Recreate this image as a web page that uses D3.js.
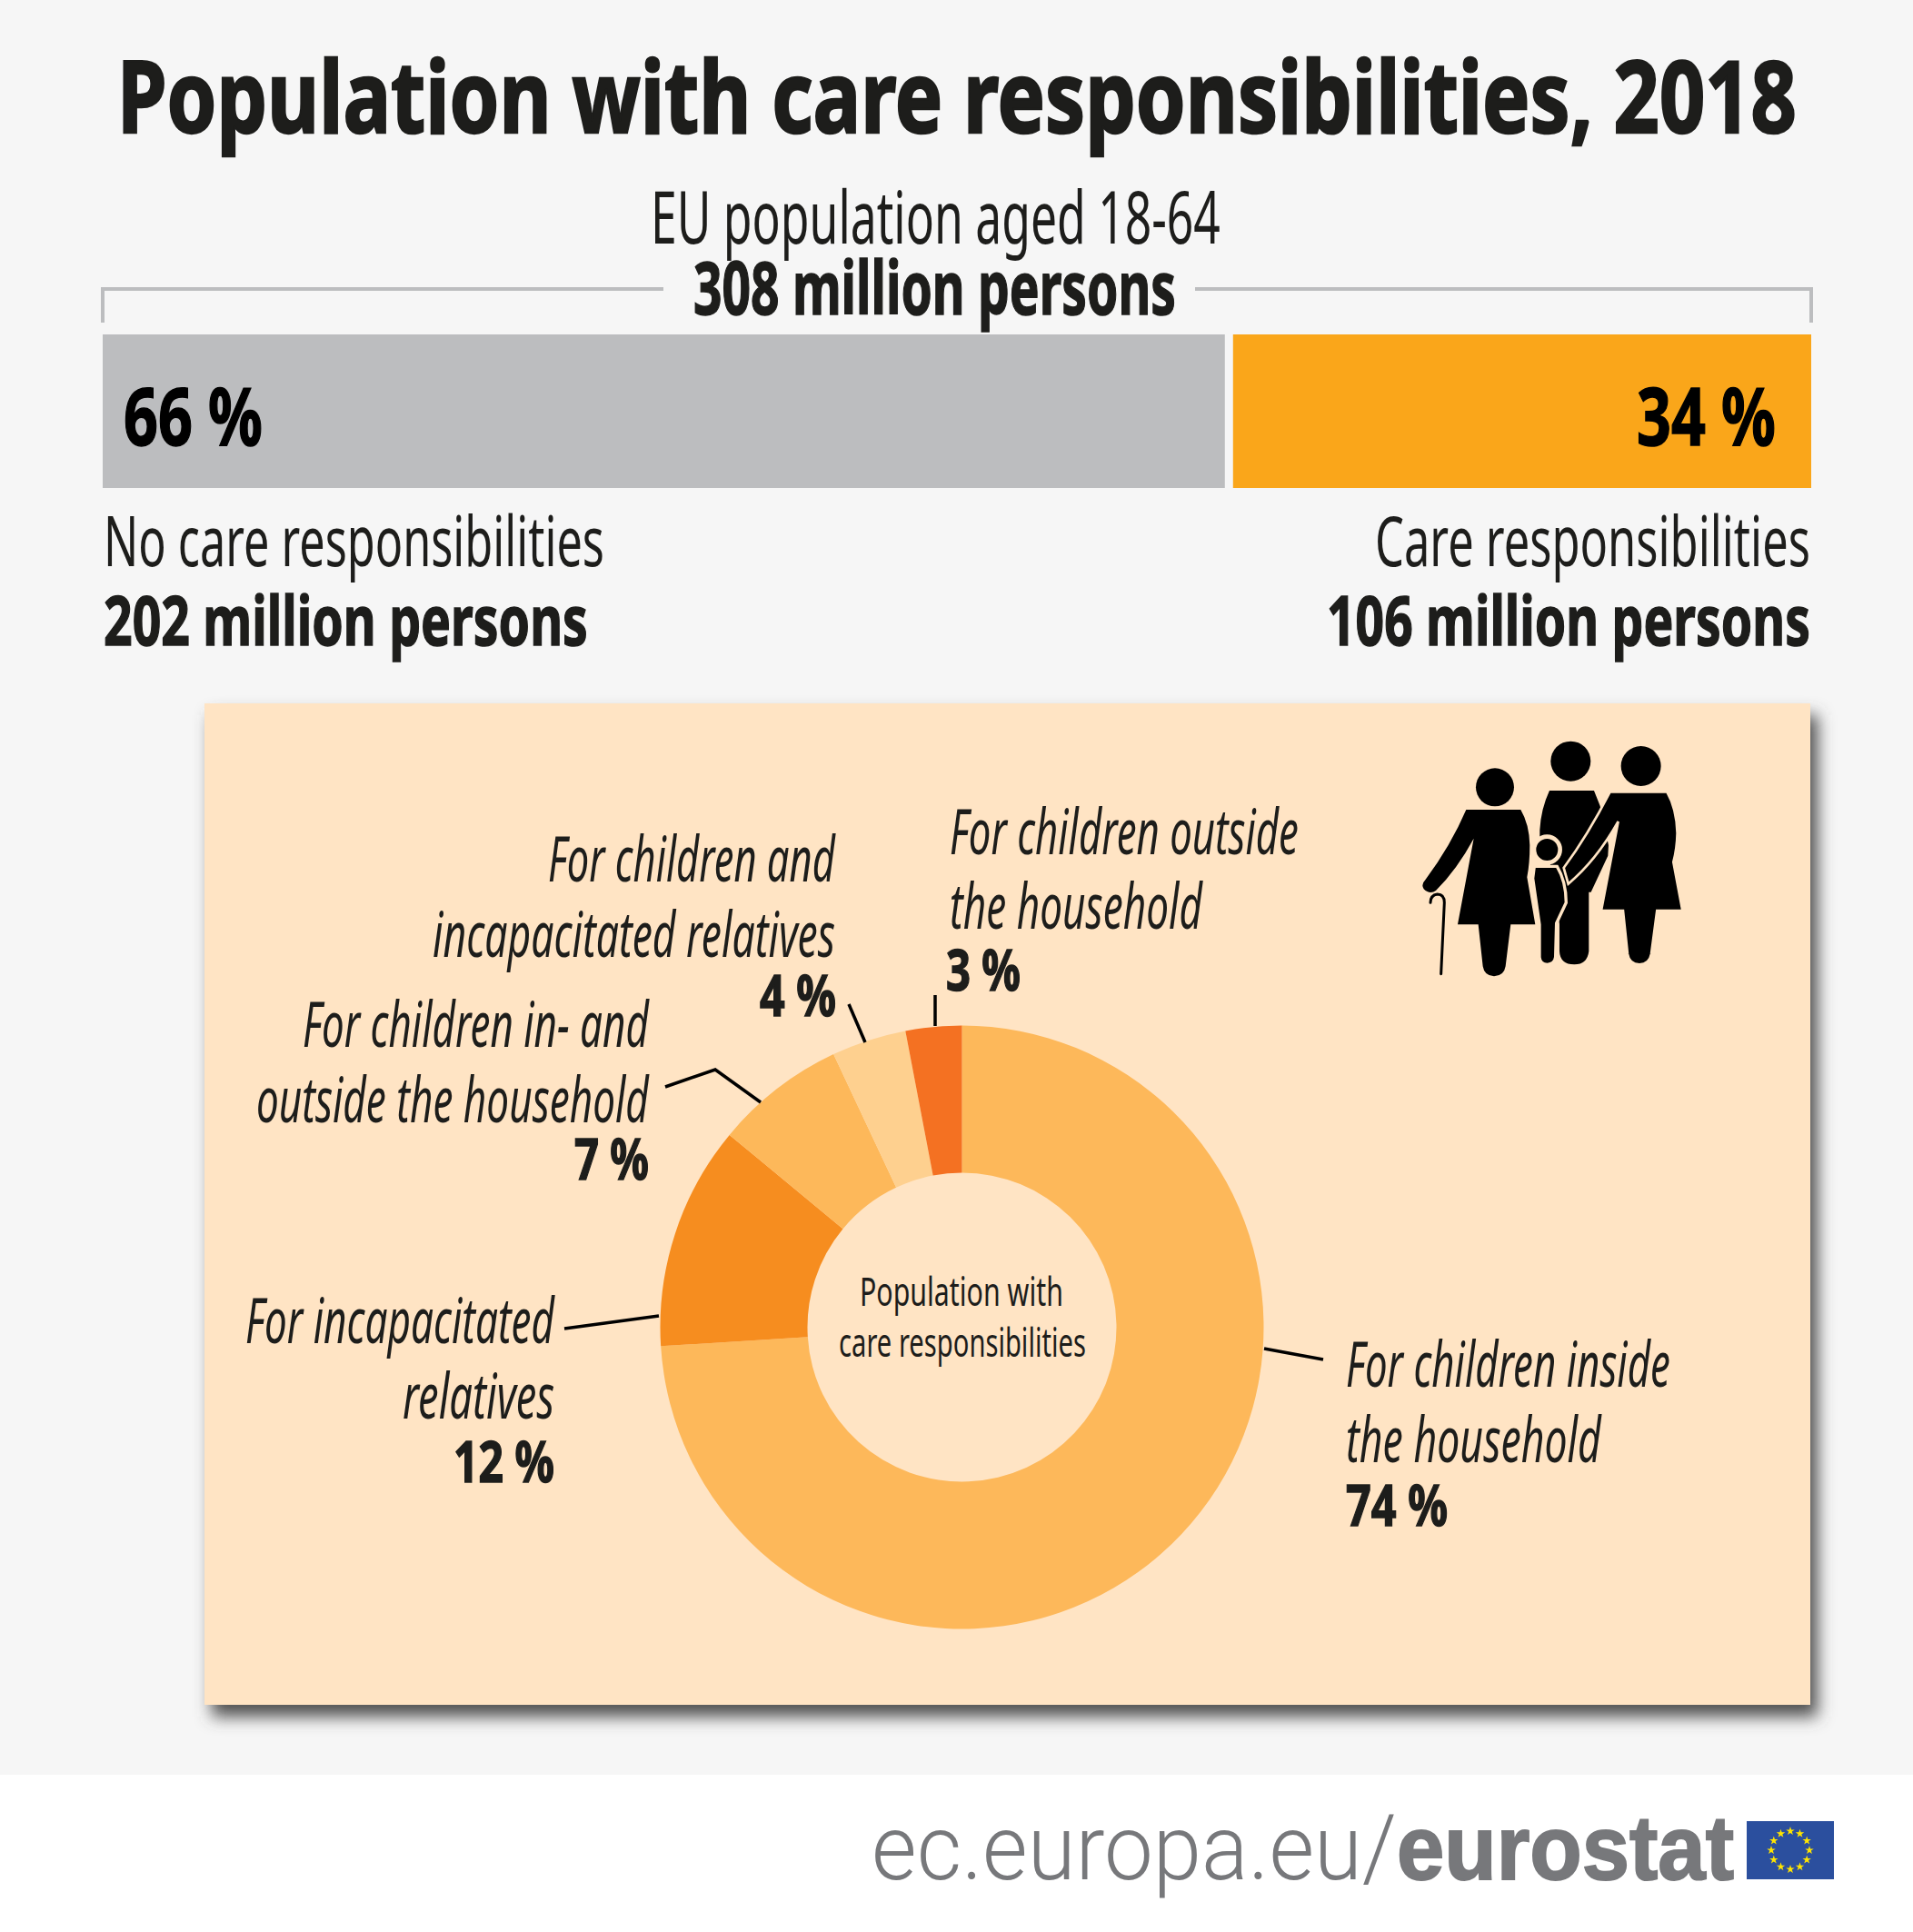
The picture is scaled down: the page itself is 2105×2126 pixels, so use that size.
<!DOCTYPE html>
<html>
<head>
<meta charset="utf-8">
<script src="https://cdn.jsdelivr.net/npm/d3@7"></script>
<style>
  html, body { margin: 0; padding: 0; background: #fff; }
  svg { display: block; }
  text { font-family: "Noto Sans", sans-serif; fill: #1d1d1b; }
</style>
</head>
<body>
<script>
// split of the population, in %
var barCategories = ["No care responsibilities", "Care responsibilities"];
var barValues = [66, 34];
var barMillions = [202, 106];

// donut slices, in %
var sliceCategories = ["For children inside the household", "For incapacitated relatives",
  "For children in- and outside the household", "For children and incapacitated relatives",
  "For children outside the household"];
var sliceValues = [74, 12, 7, 4, 3];
var sliceColors = ["#fdb85a", "#f68d1f", "#fdb85a", "#fed08f", "#f47122"];

var width = 2105, height = 2126;
var panelColor = "#ffe4c4";

var svg = d3.select("body").append("svg")
    .attr("width", width)
    .attr("height", height);

//panel shadow
var blur = svg.append("defs").append("filter")
    .attr("id", "blur")
    .attr("x", "-5%").attr("y", "-5%").attr("width", "110%").attr("height", "110%");
blur.append("feGaussianBlur").attr("stdDeviation", 9);

//text helper, squeezes the text to width w to get the condensed look of the original
function label(parent, str, x, y, w, size, weight, style, fill, family) {
    var t = parent.append("text")
        .style("font-family", family || null)
        .style("font-size", size + "px")
        .style("font-weight", weight || "normal")
        .style("font-style", style || "normal")
        .style("fill", fill || null)
        .text(str);
    var k = w / t.node().getComputedTextLength();
    t.attr("transform", "translate(" + x + "," + y + ") scale(" + k + ",1)");
    return t;
}

//same, bold text gets a thin outline since the squeeze makes it look too light
function boldLabel(parent, str, x, y, w, size, fill, outline, family) {
    var col = fill || "#1d1d1b";
    return label(parent, str, x, y, w, size, "bold", null, col, family)
        .style("stroke", col)
        .style("stroke-width", outline || 1.5);
}

//backgrounds
svg.append("rect").attr("width", width).attr("height", height).attr("fill", "#ffffff");
svg.append("rect").attr("width", width).attr("height", 1953).attr("fill", "#f6f6f6");

//title block
boldLabel(svg, "Population with care responsibilities, 2018", 129, 146, 1848, 110, null, 2.5);
label(svg, "EU population aged 18-64", 716, 268, 627, 80);
boldLabel(svg, "308 million persons", 763, 346, 531, 80);

//bracket over the bar
svg.append("path")
    .attr("d", "M113,355V318H730M1315,318H1993V355")
    .attr("fill", "none")
    .attr("stroke", "#bcbdbf")
    .attr("stroke-width", 4);

//stacked bar
var x = d3.scaleLinear().domain([0, 100]).range([113, 1993]);
var barGap = { before: 6, after: 3 };

svg.append("rect")
    .attr("x", x(0))
    .attr("y", 368)
    .attr("width", x(barValues[0]) - x(0) - barGap.before)
    .attr("height", 169)
    .attr("fill", "#bcbdbf");
svg.append("rect")
    .attr("x", x(barValues[0]) + barGap.after)
    .attr("y", 368)
    .attr("width", x(100) - x(barValues[0]) - barGap.after)
    .attr("height", 169)
    .attr("fill", "#faa61a");

boldLabel(svg, barValues[0] + " %", 136, 490, 153, 88, "#000");
boldLabel(svg, barValues[1] + " %", 1801, 490, 153, 88, "#000");

label(svg, barCategories[0], 114, 623, 551, 76);
boldLabel(svg, barMillions[0] + " million persons", 114, 710, 533, 76);
label(svg, barCategories[1], 1513, 623, 479, 76);
boldLabel(svg, barMillions[1] + " million persons", 1460, 710, 532, 76);

//panel with shadow
svg.append("rect")
    .attr("x", 233).attr("y", 787).attr("width", 1767).attr("height", 1102)
    .attr("fill", "#505050")
    .attr("filter", "url(#blur)");
svg.append("rect")
    .attr("x", 225).attr("y", 774).attr("width", 1767).attr("height", 1102)
    .attr("fill", panelColor);

//donut
var pie = d3.pie().sort(null).value(d => d);
var arc = d3.arc().innerRadius(170).outerRadius(332);
var donut = svg.append("g").attr("transform", "translate(1058.5,1460.5)");

donut.selectAll("path")
    .data(pie(sliceValues))
    .enter().append("path")
    .attr("d", arc)
    .attr("fill", (d, i) => sliceColors[i]);

label(svg, "Population with", 946, 1437, 224, 44);
label(svg, "care responsibilities", 923, 1493, 272, 44);

//leader lines
var leaders = svg.append("g").attr("fill", "none").attr("stroke", "#000").attr("stroke-width", 3.5);
leaders.append("path").attr("d", "M934,1105L952,1147");
leaders.append("path").attr("d", "M1029,1095V1129");
leaders.append("path").attr("d", "M732,1196L787,1177L837,1213");
leaders.append("path").attr("d", "M621,1462L725,1448");
leaders.append("path").attr("d", "M1391,1484L1456,1496");

//slice labels
label(svg, "For children and", 603, 970, 316, 70, null, "italic");
label(svg, "incapacitated relatives", 476, 1053, 443, 70, null, "italic");
boldLabel(svg, sliceValues[3] + " %", 836, 1118, 84, 62);

label(svg, "For children outside", 1045, 940, 384, 70, null, "italic");
label(svg, "the household", 1045, 1022, 278, 70, null, "italic");
boldLabel(svg, sliceValues[4] + " %", 1041, 1090, 82, 62);

label(svg, "For children in- and", 333, 1152, 381, 70, null, "italic");
label(svg, "outside the household", 282, 1235, 432, 70, null, "italic");
boldLabel(svg, sliceValues[2] + " %", 632, 1298, 82, 62);

label(svg, "For incapacitated", 270, 1478, 340, 70, null, "italic");
label(svg, "relatives", 443, 1561, 167, 70, null, "italic");
boldLabel(svg, sliceValues[1] + " %", 499, 1631, 111, 62);

label(svg, "For children inside", 1481, 1526, 357, 70, null, "italic");
label(svg, "the household", 1481, 1609, 281, 70, null, "italic");
boldLabel(svg, sliceValues[0] + " %", 1481, 1679, 112, 62);

//family icon, drawn in a 3x grid
var icon = svg.append("g").attr("transform", "translate(1500,780) scale(0.3333)");
//man at the back
icon.append("circle").attr("cx", 685).attr("cy", 173).attr("r", 66);
icon.append("path").attr("d", "M615,270L762,270L782,320L810,450L808,485L752,605L745,605L745,800Q740,843 697,844Q650,843 648,800L648,710L620,520L583,430L583,400Q587,330 615,270Z");
//woman on the right
icon.append("circle").attr("cx", 917).attr("cy", 189).attr("r", 66);
icon.append("path")
    .attr("d", "M815,274L1003,274Q1035,330 1037,410Q1036,460 1024,506L1054,666L970,666L951,810Q945,843 912,844Q878,843 873,810L858,666L786,666L842,372Q770,500 677,578L662,525Q740,420 815,274Z")
    .attr("stroke", panelColor).attr("stroke-width", 8);
//woman on the left with the cane
icon.append("circle").attr("cx", 435).attr("cy", 259).attr("r", 63);
icon.append("path").attr("d", "M340,333L520,333Q548,380 550,450Q550,510 541,556L568,712L487,712L470,850Q465,882 432,883Q400,882 395,850L380,712L312,712L365,428Q310,530 240,600Q220,615 200,595Q190,580 205,565Q290,450 340,333Z");
icon.append("path")
    .attr("d", "M257,875L268,640Q268,612 245,612Q222,615 222,640")
    .attr("fill", "none").attr("stroke", "#000").attr("stroke-width", 9).attr("stroke-linecap", "round");
//child in front
icon.append("circle").attr("cx", 607).attr("cy", 465).attr("r", 43)
    .attr("stroke", panelColor).attr("stroke-width", 14);
icon.append("path")
    .attr("d", "M565,520L640,520Q670,570 670,640L638,708L635,820Q632,843 608,844Q584,843 582,820L582,712L560,560Z")
    .attr("stroke", panelColor).attr("stroke-width", 10);

//footer logo
label(svg, "ec.europa.eu/", 959, 2068, 578, 100, 300, null, "#77787b", "Roboto, sans-serif");
boldLabel(svg, "eurostat", 1537, 2068, 371, 100, "#77787b", 2, "'Liberation Sans', sans-serif");

svg.append("rect")
    .attr("x", 1922).attr("y", 2004).attr("width", 96).attr("height", 64)
    .attr("fill", "#2b4f9e");

//12 stars of the flag
var stars = d3.range(12);
var star = d3.symbol().type(d3.symbolStar).size(28);
svg.append("g")
    .attr("transform", "translate(1970,2036)")
    .selectAll("path")
    .data(stars)
    .enter().append("path")
    .attr("d", star)
    .attr("fill", "#ffe500")
    .attr("transform", d => {
        var a = d / 12 * 2 * Math.PI;
        return "translate(" + (21 * Math.sin(a)) + "," + (-21 * Math.cos(a)) + ")";
    });
</script>
</body>
</html>
